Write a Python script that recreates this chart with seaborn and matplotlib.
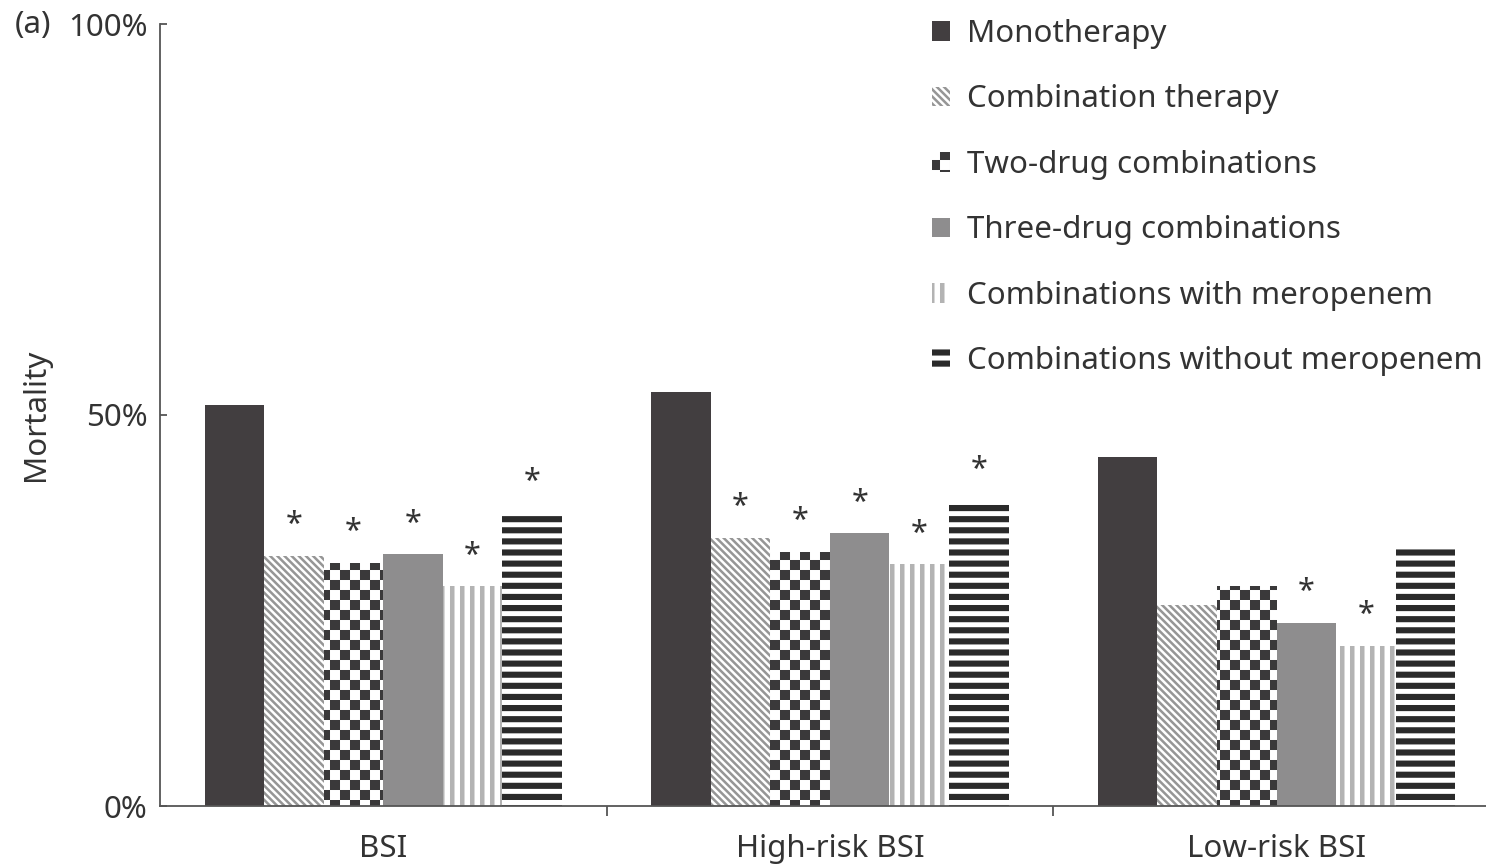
import warnings
warnings.filterwarnings("ignore")
import numpy as np
import pandas as pd
import matplotlib
matplotlib.use("Agg")
import matplotlib.pyplot as plt
import matplotlib.hatch as mhatch
from matplotlib.path import Path
import seaborn as sns

# ---------------- data ----------------
groups = ["BSI", "High-risk BSI", "Low-risk BSI"]
therapies = ["Monotherapy", "Combination therapy", "Two-drug combinations",
             "Three-drug combinations", "Combinations with meropenem",
             "Combinations without meropenem"]
monotherapy = [51.3, 52.9, 44.6]
combination = [32.0, 34.3, 25.7]
two_drug = [31.1, 32.5, 28.1]
three_drug = [32.2, 34.9, 23.4]
with_meropenem = [28.1, 30.9, 20.5]
without_meropenem = [37.5, 39.0, 33.4]
significant = [
    [False, False, False],
    [True, True, False],
    [True, True, False],
    [True, True, True],
    [True, True, True],
    [True, True, False],
]
y_ticks = [0, 50, 100]
y_ticklabels = ["0%", "50%", "100%"]

# ---------------- custom fill patterns ----------------
mhatch._validate_hatch_pattern = lambda h: None


class _PolyHatch(mhatch.HatchPatternBase):
    char = None

    def __init__(self, hatch, density):
        self.polys = self.make_polys() if (hatch and self.char in hatch) else []
        self.num_vertices = 5 * len(self.polys)

    def make_polys(self):
        return []

    def set_vertices_and_codes(self, vertices, codes):
        for i, p in enumerate(self.polys):
            vertices[5 * i:5 * i + 4] = p
            vertices[5 * i + 4] = p[0]
            codes[5 * i] = Path.MOVETO
            codes[5 * i + 1:5 * i + 4] = Path.LINETO
            codes[5 * i + 4] = Path.CLOSEPOLY


class CheckerHatch(_PolyHatch):
    char = "c"

    def make_polys(self):
        n = 10
        polys = []
        for i in range(n):
            for j in range(n):
                if (i + j) % 2 == 0:
                    x0, y0, x1, y1 = i / n, j / n, (i + 1) / n, (j + 1) / n
                    polys.append([(x0, y0), (x1, y0), (x1, y1), (x0, y1)])
        return polys


class HStripeHatch(_PolyHatch):
    char = "h"

    def make_polys(self):
        n, w = 9, 0.55
        polys = []
        for k in range(n):
            y0, y1 = k / n, (k + w) / n
            polys.append([(-0.05, y0), (1.05, y0), (1.05, y1), (-0.05, y1)])
        return polys


class VStripeHatch(_PolyHatch):
    char = "v"

    def make_polys(self):
        n, w = 10, 0.45
        polys = []
        for k in range(n):
            x0, x1 = k / n, (k + w) / n
            polys.append([(x0, -0.05), (x1, -0.05), (x1, 1.05), (x0, 1.05)])
        return polys


class DiagHatch(_PolyHatch):
    char = "d"

    def make_polys(self):
        n, w = 14, 0.5
        polys = []
        for k in range(-1, 2 * n + 2):
            t1, t2 = (k - w / 2) / n, (k + w / 2) / n
            polys.append([(-1, t1 + 1), (2, t1 - 2), (2, t2 - 2), (-1, t2 + 1)])
        return polys


mhatch._hatch_types.extend([CheckerHatch, HStripeHatch, VStripeHatch, DiagHatch])

# ---------------- style ----------------
sns.set_style("white")
plt.rcParams["font.family"] = ["Noto Sans", "DejaVu Sans"]
plt.rcParams["hatch.linewidth"] = 0.01
text_color = "#333333"
axis_color = "#555555"
FS = 22.5

face_colors = ["#423e40", "#ffffff", "#ffffff", "#8e8d8e", "#ffffff", "#ffffff"]
pattern_colors = ["#423e40", "#969696", "#3a393a", "#8e8d8e", "#b3b3b3", "#2a2a2a"]
patterns = [None, "d", "c", None, "v", "h"]

series = [monotherapy, combination, two_drug, three_drug, with_meropenem, without_meropenem]
df = pd.DataFrame({
    "group": np.repeat([groups], len(therapies), axis=0).ravel(),
    "therapy": np.repeat(therapies, len(groups)),
    "mortality": np.concatenate(series),
})

fig = plt.figure(figsize=(14.86, 8.66), dpi=100)
ax = fig.add_axes([160 / 1486, 60 / 866, 1326 / 1486, 782 / 866])

sns.barplot(data=df, x="group", y="mortality", hue="therapy", order=groups,
            hue_order=therapies, palette=face_colors, saturation=1, width=0.8,
            dodge=True, errorbar=None, legend=False, linewidth=0, ax=ax)

for i, cont in enumerate(ax.containers):
    for j, bar in enumerate(cont.patches):
        bar.set_facecolor(face_colors[i])
        bar.set_edgecolor(pattern_colors[i])
        bar.set_linewidth(0)
        if patterns[i]:
            bar.set_hatch(patterns[i])
        if significant[i][j]:
            ax.annotate("*", (bar.get_x() + bar.get_width() / 2, bar.get_height()),
                        xytext=(0, 22), textcoords="offset points", ha="center",
                        va="center", fontsize=22, color=text_color)

ax.set_yticks(y_ticks)
ax.set_yticklabels(y_ticklabels)
ax.set_xticks([0.5, 1.5], minor=True)
ax.set_ylim(0, 100)
ax.set_xlim(-0.5, 2.469)
ax.set_xlabel("")
ax.set_ylabel("Mortality", fontsize=FS, color=text_color, labelpad=12)

for s in ["top", "right"]:
    ax.spines[s].set_visible(False)
for s in ["left", "bottom"]:
    ax.spines[s].set_color(axis_color)
    ax.spines[s].set_linewidth(1.3)

ax.tick_params(axis="y", direction="in", length=5, width=1.3, color=axis_color,
               labelsize=FS, labelcolor=text_color, pad=9, left=True)
ax.tick_params(axis="x", which="major", length=0, labelsize=FS,
               labelcolor=text_color, pad=20)
ax.tick_params(axis="x", which="minor", direction="out", length=7, width=1.3,
               color=axis_color, bottom=True)

fig.text(15 / 1486, 1 - 25 / 866, "(a)", fontsize=FS, color=text_color,
         ha="left", va="center")

handles = [cont.patches[0] for cont in ax.containers]
leg = ax.legend(handles, therapies, loc="upper left",
                bbox_to_anchor=(932 / 1486, 1 - 19 / 866),
                bbox_transform=fig.transFigure, frameon=False, fontsize=FS,
                handlelength=0.58, handleheight=0.58, handletextpad=0.54,
                labelspacing=1.135, borderaxespad=0, borderpad=0)
for t in leg.get_texts():
    t.set_color(text_color)

fig.savefig("out.png", dpi=100)
